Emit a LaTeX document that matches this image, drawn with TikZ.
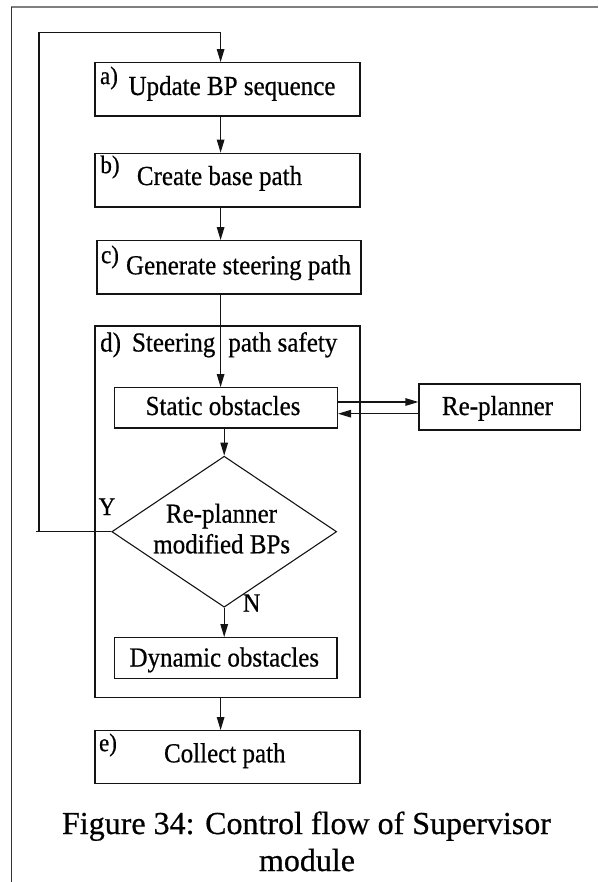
\documentclass[tikz,border=0pt]{standalone}
\usepackage{fontspec}
\setmainfont{Liberation Serif}
\newfontfamily\figfont{Liberation Serif}[FakeBold=0.6]
\newcommand{\tall}[1]{\scalebox{1}[1.1]{#1}}
\usetikzlibrary{arrows.meta,shapes.geometric}
\begin{document}
\begin{tikzpicture}[x=1pt,y=-1pt,
  box/.style={draw=black!92, line width=1.2pt, inner sep=0pt, rectangle},
  txt/.style={font=\figfont\fontsize{25}{30}\selectfont, inner sep=0pt, anchor=base},
  tag/.style={font=\figfont\fontsize{23}{28}\selectfont, inner sep=0pt},
  captext/.style={font=\figfont\fontsize{32}{38}\selectfont, inner sep=0pt, anchor=base},
  arr/.style={draw=black!92, line width=1.2pt, -{Triangle[length=13pt,width=7.5pt]}},
  wire/.style={draw=black!92, line width=1.2pt}]
\useasboundingbox (0,0) rectangle (598,882);

% page frame
\draw[gray, line width=1.6pt] (11,7) -- (598,7);
\draw[black!80, line width=1pt] (11.7,7) -- (11.7,882);

% main flow axis and loop corner
\coordinate (spine) at (220.6,0);
\coordinate (loopc) at (39,32.3);
\coordinate (ystub) at (35.5,531.7);

% process boxes
\node[box, minimum width=265pt, minimum height=53.3pt] (a) at (227.5,89.35) {};
\node[box, minimum width=265pt, minimum height=53.7pt] (b) at (227.5,180.15) {};
\node[box, minimum width=264pt, minimum height=53.3pt] (c) at (229,267.35) {};
\node[box, minimum width=265pt, minimum height=371.3pt] (d) at (227.5,511.65) {};
\node[box, minimum width=222.9pt, minimum height=40.3pt] (static) at (225.95,407.85) {};
\node[box, minimum width=161.5pt, minimum height=46pt] (replan) at (499.75,407) {};
\node[draw=black!92, line width=1.1pt, diamond, inner sep=0pt,
      minimum width=224.9pt, minimum height=151pt] (dia) at (224.2,531.7) {};
\node[box, minimum width=222.5pt, minimum height=40.6pt] (dyn) at (225.75,658) {};
\node[box, minimum width=265pt, minimum height=53pt] (e) at (227.5,757.2) {};

% box texts
\node[txt] (ta) at (232,95) {\tall{Update BP sequence}};
\node[tag] (la) at (109,78) {\tall{a)}};
\node[txt] (tb) at (219.5,185) {\tall{Create base path}};
\node[tag] (lb) at (110,167) {\tall{b)}};
\node[txt] (tc) at (238.5,274.3) {\tall{Generate steering path}};
\node[tag] (lc) at (110,257) {\tall{c)}};
\node[txt, anchor=base west] (td) at (100,351.5) {\tall{d)\hspace{11pt}Steering\hspace{13pt}path safety}};
\node[txt] (tstatic) at (223,415) {\tall{Static obstacles}};
\node[txt] (treplan) at (497.5,415) {\tall{Re-planner}};
\node[txt] (tdia1) at (221.5,522.7) {\tall{Re-planner}};
\node[txt] (tdia2) at (221.7,553.3) {\tall{modified BPs}};
\node[txt] (tdyn) at (224.3,666.5) {\tall{Dynamic obstacles}};
\node[txt] (te) at (224.8,762.3) {\tall{Collect path}};
\node[tag] (le) at (108,745) {\tall{e)}};
\node[txt, font=\figfont\fontsize{23}{28}\selectfont] (yes) at (107,515) {\tall{Y}};
\node[txt, font=\figfont\fontsize{24}{28}\selectfont] (no) at (251.7,611.7) {\tall{N}};

% caption
\node[captext] (cap1) at (306.5,834) {Figure 34: Control flow of Supervisor};
\node[captext] (cap2) at (307,871) {module};

% connectors
\draw[arr] (a.south -| spine) -- (b.north -| spine);
\draw[arr] (b.south -| spine) -- (c.north -| spine);
\draw[arr] (c.south -| spine) -- (static.north -| spine);
\draw[arr] ([yshift=5.85pt]static.east) -- ([yshift=5.85pt]static.east -| replan.west);
\draw[arr] ([yshift=-5.85pt]static.east -| replan.west) -- ([yshift=-5.85pt]static.east);
\draw[arr] (static.south -| dia.north) -- (dia.north);
\draw[arr] (dia.south) -- (dia.south |- dyn.north);
\draw[arr] (d.south -| spine) -- (e.north -| spine);
\draw[wire] (dia.west) -- (ystub);
\draw[arr] (dia.west) -| (loopc) -| (a.north -| spine);
\end{tikzpicture}
\end{document}
